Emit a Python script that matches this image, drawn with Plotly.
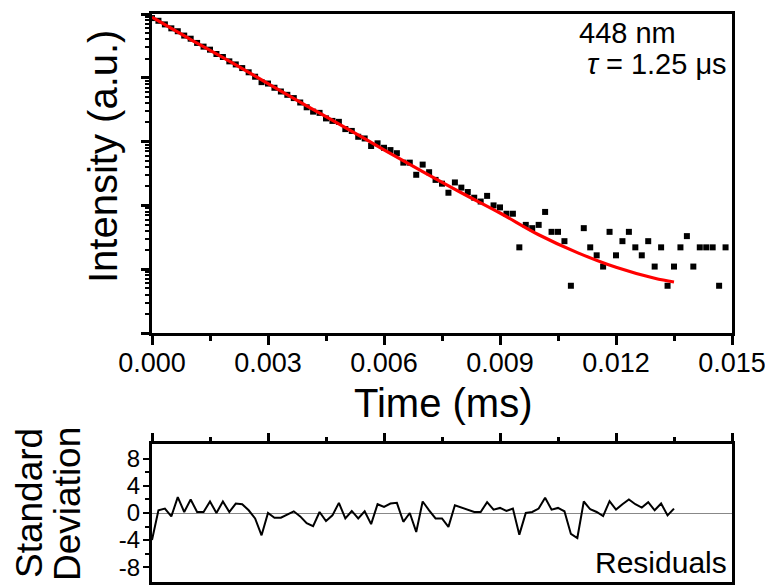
import numpy as np
import plotly.graph_objects as go

# decay data, sampled every 0.015/90 ms
dt = 0.015 / 90
intensity = [86300, 78300, 68700, 59600, 53700, 45900, 41000, 35200, 30800, 27600,
             23600, 21200, 18100, 16200, 14200, 12200, 10400, 8550, 8130, 6980,
             6100, 5410, 4810, 4100, 3450, 2950, 2820, 2310, 2110, 2040,
             1570, 1470, 1190, 1120, 853, 940, 800, 736, 658, 468,
             468, 302, 436, 331, 251, 219, 158, 229, 190, 162,
             132, 115, 141, 100, 93, 74, 74, 22, 49.5, 44,
             49.5, 79, 38.5, 38.5, 27.5, 5.5, None, 44, 22, 16.5,
             11, 38.5, 16.5, 27.5, 38.5, 22, 16.5, 27.5, 11, 22,
             5.5, 11, 22, 33, 11, 22, 22, 22, 5.5, 22]
time = np.arange(len(intensity)) * dt

# fitted curve
fit_time = [0, 0.001, 0.002, 0.003, 0.004, 0.005, 0.006, 0.007, 0.008,
            0.009, 0.010, 0.011, 0.012, 0.013, 0.0135]
fit_val = [89000, 39800, 18200, 8130, 3630, 1660, 741, 339, 158,
           76, 34.7, 18.2, 10.7, 7.2, 6.3]

residuals = [-4.0, 0.4, 0.65, -0.5, 2.35, 0.15, 2.0, 0.15, 0.15, 1.7,
             0.0, 1.7, 0.15, 1.4, 1.3, 0.4, -0.8, -3.3, 0.0, -0.7,
             -0.7, -0.2, 0.25, -0.5, -1.5, -1.95, 0.15, -1.2, -0.35, 1.5,
             -0.8, 0.3, -0.8, 0.25, -1.65, 1.3, 0.9, 1.4, 1.5, -1.3,
             0.0, -2.8, 1.7, 0.4, -0.8, -0.8, -2.05, 1.15, 0.8, 0.4,
             0.15, 0.15, 1.6, 0.5, 0.75, 0.3, 0.65, -3.2, 0.0, 0.15,
             0.65, 2.25, 0.5, 0.75, 0.25, -3.1, -3.7, 1.7, 0.55, 0.15,
             -0.45, 1.75, 0.5, 1.3, 2.0, 1.3, 0.8, 1.6, 0.4, 1.4,
             -0.35, 0.65]
res_time = np.arange(len(residuals)) * dt

res_ticks = [-8, -4, 0, 4, 8]
res_ticktext = ["-8", "-4", "0", "4", "8"]

font = "Liberation Sans, Arial, sans-serif"
# the page body has an 8px margin, so the figure is 8px smaller than the window
OFF = 8
W, H = 773 - OFF, 587 - OFF


def fx(px):
    return (px - OFF) / W


def fy(py):
    return 1 - (py - OFF) / H


fig = go.Figure()
fig.add_trace(go.Scatter(x=time, y=intensity, mode="markers",
                         marker=dict(symbol="square", size=6, color="black", line_width=0),
                         xaxis="x", yaxis="y", showlegend=False))
fig.add_trace(go.Scatter(x=fit_time, y=fit_val, mode="lines",
                         line=dict(color="#ff0000", width=3.2, shape="spline"),
                         xaxis="x", yaxis="y", showlegend=False))
fig.add_trace(go.Scatter(x=res_time, y=residuals, mode="lines",
                         line=dict(color="black", width=2),
                         xaxis="x2", yaxis="y2", showlegend=False))

fig.update_layout(
    width=W, height=H,
    margin=dict(l=0, r=0, t=0, b=0, autoexpand=False),
    paper_bgcolor="white", plot_bgcolor="white",
    font=dict(family=font, color="black"),
    xaxis=dict(domain=[fx(152), fx(732)], anchor="y", range=[0, 0.015], automargin=False,
               dtick=0.003, tick0=0, tickformat=".3f",
               ticks="outside", ticklen=9, tickwidth=2.5, tickcolor="black",
               minor=dict(dtick=0.0015, ticks="outside", ticklen=5, tickwidth=2.5, tickcolor="black"),
               showline=True, linewidth=3, linecolor="black", mirror=True,
               showgrid=False, zeroline=False, ticklabelstandoff=-5,
               tickfont=dict(size=27)),
    yaxis=dict(domain=[fy(333), fy(14)], anchor="x", type="log", range=[0, 5],
               automargin=False, dtick=1, showticklabels=False,
               ticks="outside", ticklen=8, tickwidth=2.5, tickcolor="black",
               minor=dict(dtick="D1", ticks="outside", ticklen=4, tickwidth=2, tickcolor="black"),
               showline=True, linewidth=3, linecolor="black", mirror=True,
               showgrid=False, zeroline=False),
    xaxis2=dict(domain=[fx(152), fx(732)], anchor="y2", range=[0, 0.015], side="top",
                automargin=False, dtick=0.003, tick0=0, showticklabels=False,
                ticks="outside", ticklen=8, tickwidth=2.5, tickcolor="black",
                minor=dict(dtick=0.0015, ticks="outside", ticklen=4, tickwidth=2.5, tickcolor="black"),
                showline=True, linewidth=3, linecolor="black", mirror=True,
                showgrid=False, zeroline=False),
    yaxis2=dict(domain=[fy(582), fy(444)], anchor="x2", range=[-10.2, 10.2],
                automargin=False, tickmode="array", tickvals=res_ticks, ticktext=res_ticktext,
                ticks="outside", ticklen=6, tickwidth=2, tickcolor="black",
                minor=dict(tickvals=[-6, -2, 2, 6], ticks="outside", ticklen=4, tickwidth=2,
                           tickcolor="black"),
                showline=True, linewidth=3, linecolor="black", mirror=True,
                showgrid=False, zeroline=True, zerolinecolor="#888888", zerolinewidth=1,
                ticklabelstandoff=-2, tickfont=dict(size=24)),
)


def label(text, px, py, size, angle=0, xanchor="center"):
    # place a text by its pixel position in the 773x587 picture
    fig.add_annotation(text=text, x=fx(px), y=fy(py), xref="paper", yref="paper",
                       xanchor=xanchor, yanchor="middle", showarrow=False,
                       textangle=angle, font=dict(size=size))


label("Intensity (a.u.)", 103, 157, 40, angle=-90)
label("Time (ms)", 443, 403, 40)
label("Standard", 29, 503, 37, angle=-90)
label("Deviation", 67, 504, 37, angle=-90)
label("448 nm", 678, 33, 29, xanchor="right")
label("<i>τ</i> = 1.25 μs", 729, 64, 29, xanchor="right")
label("Residuals", 729, 562, 30, xanchor="right")

fig.write_html("out.html")
